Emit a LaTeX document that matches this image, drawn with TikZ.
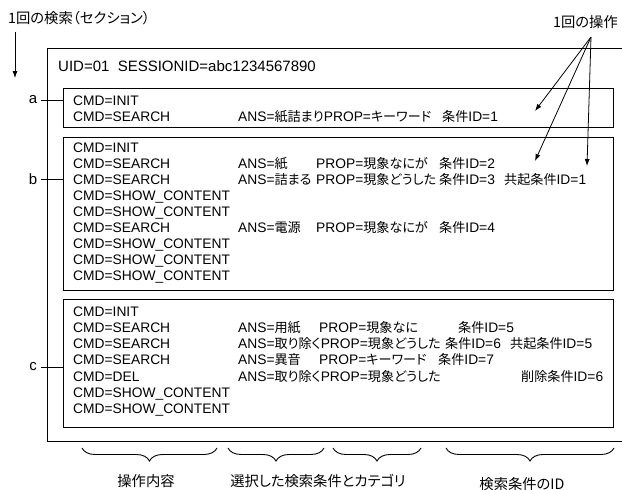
\documentclass[tikz,border=0pt]{standalone}
\usepackage{fontspec}
\setmainfont{Liberation Sans}
\newfontfamily\jf[Scale=0.95,RawFeature=+palt]{Noto Sans CJK JP}
\newfontfamily\jt[RawFeature=+palt]{Noto Sans CJK JP}
\newcommand\J[1]{{\jf #1}}
\usetikzlibrary{arrows.meta,decorations.pathreplacing}
\begin{document}
\begin{tikzpicture}[x=1pt,y=-1pt,
  txt/.style={anchor=base west, inner sep=0pt, font=\fontsize{13.8}{16}\selectfont},
  uid/.style={anchor=base west, inner sep=0pt, font=\fontsize{15}{18}\selectfont},
  ttl/.style={inner sep=0pt, font=\jt\fontsize{14.3}{17}\selectfont},
  lbl/.style={inner sep=0pt, font=\fontsize{15}{18}\selectfont},
  box/.style={draw, line width=0.9pt, anchor=north west, inner sep=0pt},
  ln/.style={line width=0.9pt},
  arr/.style={line width=0.8pt, -{Latex[length=7pt,width=5pt]}},
  brc/.style={line width=0.9pt, decorate, decoration={brace, mirror, amplitude=13pt}}]
\useasboundingbox (0,0) rectangle (622,490);
\clip (0,0) rectangle (622,490);
\fill[white] (0,0) rectangle (622,490);

% titles
\node[ttl, anchor=west] (t1) at (8,18) {1回の検索（セクション）};
\node[ttl, anchor=west] (t2) at (553,22) {1回の操作};
\coordinate (t1a) at (15,32);
\coordinate (t1b) at (15,78);
\draw[arr] (t1a) -- (t1b);

% outer box
\node[box, minimum width=600pt, minimum height=393pt] (outer) at (47,48) {};
\node[uid] (uid) at (58,71) {UID=01\ \ SESSIONID=abc1234567890};

% inner boxes
\node[box, minimum width=550pt, minimum height=39pt] (boxa) at (63,88) {};
\node[box, minimum width=550pt, minimum height=153pt] (boxb) at (63,137) {};
\node[box, minimum width=550pt, minimum height=128pt] (boxc) at (63,299) {};

% labels a b c
\node[lbl] (la) at (33,100) {a};
\node[lbl] (lb) at (33,179) {b};
\node[lbl] (lc) at (33,367) {c};
\draw[ln] (la.east) ++(4pt,0) -- (la.east -| boxa.west);
\draw[ln] (lb.east) ++(4pt,0) -- (lb.east -| boxb.west);
\draw[ln] (lc.east) ++(4pt,0) -- (lc.east -| boxc.west);

% box a
\node[txt] (a1) at (73,105) {CMD=INIT};
\node[txt] (a2) at (73,121) {CMD=SEARCH};
\node[txt] (a2r) at (238,121) {ANS=\J{紙詰まり}PROP=\J{キーワード}};
\node[txt] (a2c) at (442,121) {\J{条件}ID=1};

% box b
\node[txt] (b1) at (73,152) {CMD=INIT};
\node[txt] (b2) at (73,168) {CMD=SEARCH};
\node[txt] (b2a) at (238,168) {ANS=\J{紙}};
\node[txt] (b2p) at (316,168) {PROP=\J{現象なにが}};
\node[txt] (b2c) at (439,168) {\J{条件}ID=2};
\node[txt] (b3) at (73,184) {CMD=SEARCH};
\node[txt] (b3a) at (238,184) {ANS=\J{詰まる}};
\node[txt] (b3p) at (316,184) {PROP=\J{現象どうした}};
\node[txt] (b3c) at (439,184) {\J{条件}ID=3};
\node[txt] (b3k) at (504,184) {\J{共起条件}ID=1};
\node[txt] (b4) at (73,200) {CMD=SHOW\_CONTENT};
\node[txt] (b5) at (73,216) {CMD=SHOW\_CONTENT};
\node[txt] (b6) at (73,232) {CMD=SEARCH};
\node[txt] (b6a) at (238,232) {ANS=\J{電源}};
\node[txt] (b6p) at (316,232) {PROP=\J{現象なにが}};
\node[txt] (b6c) at (439,232) {\J{条件}ID=4};
\node[txt] (b7) at (73,248) {CMD=SHOW\_CONTENT};
\node[txt] (b8) at (73,264) {CMD=SHOW\_CONTENT};
\node[txt] (b9) at (73,280) {CMD=SHOW\_CONTENT};

% box c
\node[txt] (c1) at (73,316) {CMD=INIT};
\node[txt] (c2) at (73,332.3) {CMD=SEARCH};
\node[txt] (c2a) at (238,332.3) {ANS=\J{用紙}};
\node[txt] (c2p) at (319,332.3) {PROP=\J{現象なに}};
\node[txt] (c2c) at (458,332.3) {\J{条件}ID=5};
\node[txt] (c3) at (73,348.6) {CMD=SEARCH};
\node[txt] (c3a) at (238,348.6) {ANS=\J{取り除く}PROP=\J{現象どうした}};
\node[txt] (c3c) at (445,348.6) {\J{条件}ID=6};
\node[txt] (c3k) at (510,348.6) {\J{共起条件}ID=5};
\node[txt] (c4) at (73,364.9) {CMD=SEARCH};
\node[txt] (c4a) at (238,364.9) {ANS=\J{異音}};
\node[txt] (c4p) at (319,364.9) {PROP=\J{キーワード}};
\node[txt] (c4c) at (438,364.9) {\J{条件}ID=7};
\node[txt] (c5) at (73,381.2) {CMD=DEL};
\node[txt] (c5a) at (238,381.2) {ANS=\J{取り除く}PROP=\J{現象どうした}};
\node[txt] (c5d) at (521,381.2) {\J{削除条件}ID=6};
\node[txt] (c6) at (73,397.5) {CMD=SHOW\_CONTENT};
\node[txt] (c7) at (73,413.8) {CMD=SHOW\_CONTENT};

% arrows from 1回の操作
\coordinate (op) at (591,37);
\coordinate (tip1) at (535,111);
\coordinate (tip2) at (535,161);
\coordinate (tip3) at (587,166);
\draw[arr] (op) -- (tip1);
\draw[arr] (op) -- (tip2);
\draw[arr] (op) -- (tip3);

% braces
\coordinate (br1a) at (82,448); \coordinate (br1b) at (217,448);
\coordinate (br2a) at (228,448); \coordinate (br2b) at (324,448);
\coordinate (br3a) at (333,448); \coordinate (br3b) at (421,448);
\coordinate (br4a) at (446,448); \coordinate (br4b) at (614,448);
\draw[brc] (br1a) -- (br1b);
\draw[brc] (br2a) -- (br2b);
\draw[brc] (br3a) -- (br3b);
\draw[brc] (br4a) -- (br4b);
\node[ttl] (bl1) at (146,481) {操作内容};
\node[ttl] (bl2) at (318,481) {選択した検索条件とカテゴリ};
\node[ttl] (bl3) at (522,484) {検索条件のID};
\end{tikzpicture}
\end{document}
